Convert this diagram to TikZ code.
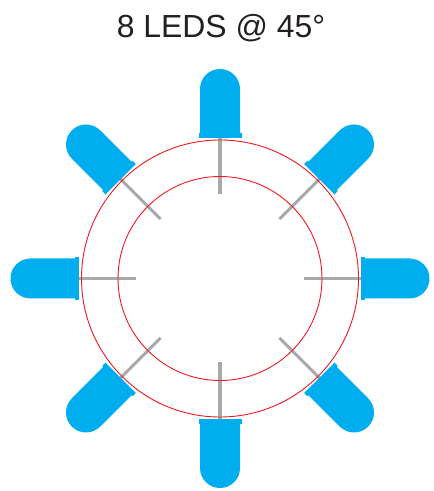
\documentclass[tikz,border=0pt]{standalone}
\usepackage{fontspec}
\setmainfont{Liberation Sans}
\definecolor{ledblue}{RGB}{0,174,239}
\definecolor{ringred}{RGB}{237,28,36}
\definecolor{leadgray}{RGB}{167,169,172}
\definecolor{titleink}{RGB}{35,31,32}
\begin{document}
\begin{tikzpicture}[
    x=0.025cm, y=0.025cm,
    ledbody/.style={fill=ledblue, draw=none},
    leadline/.style={draw=leadgray},
    ring/.style={draw=ringred, line width=0.65pt},
]
\useasboundingbox (-220,-212.5) rectangle (213,278.5);
\node[font=\fontsize{22.7}{26}\selectfont, text=titleink, inner sep=0pt] (title) at (1,250) {8 LEDS @ 45°};

% leads first, rings over them
\foreach \ang/\leadw in {0/2.8pt,45/2.1pt,90/2.8pt,135/2.1pt,180/2.8pt,225/2.1pt,270/2.8pt,315/2.1pt}{
    \draw[leadline, line width=\leadw, rotate=\ang] (0,141) -- (0,84);
}
\draw[ring] (0,0) circle (138.5);
\draw[ring] (0,0) circle (102);

% one LED every 45 degrees
\foreach \ang in {0,45,...,315}{
    \begin{scope}[rotate=\ang]
    \fill[ledbody] (-20,144) -- (-20,189.5) arc (180:0:20) -- (20,144) -- cycle;
    \fill[ledbody] (-21.5,140.5) rectangle (21.5,145);
    \end{scope}
}
\end{tikzpicture}
\end{document}
